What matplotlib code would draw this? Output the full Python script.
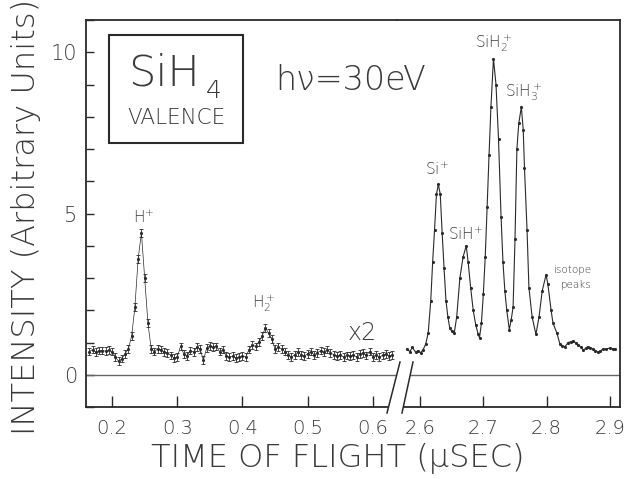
#- Time-of-flight spectrum of SiH4 (valence, hv = 30 eV) with a broken time axis.

import numpy as np
import matplotlib.pyplot as plt
from matplotlib.patches import Rectangle, Polygon
from matplotlib.lines import Line2D
from matplotlib.ticker import MultipleLocator

plt.rcParams['font.family'] = ['DejaVu Sans']
plt.rcParams['font.weight'] = 'light'
plt.rcParams['mathtext.fontset'] = 'custom'
plt.rcParams['mathtext.rm'] = 'DejaVu Sans:light'
plt.rcParams['mathtext.it'] = 'DejaVu Sans:light:italic'


#- Data:  left part (x2 scaled, with error bars), time bins every 0.005 usec.

t_left = np.round(np.arange(0.165, 0.6301, 0.005), 3)
i_left = [0.72, 0.78, 0.70, 0.75, 0.75, 0.73, 0.76, 0.72, 0.55, 0.42,
          0.50, 0.65, 0.80, 1.20, 2.10, 3.60, 4.40, 3.00, 1.60, 0.80,
          0.72, 0.80, 0.78, 0.70, 0.68, 0.60, 0.52, 0.55, 0.88, 0.65,
          0.58, 0.75, 0.70, 0.85, 0.80, 0.45, 0.82, 0.90, 0.85, 0.88,
          0.72, 0.78, 0.58, 0.55, 0.58, 0.52, 0.55, 0.58, 0.55, 0.78,
          0.92, 0.88, 1.02, 1.20, 1.45, 1.30, 1.10, 0.80, 0.85, 0.80,
          0.72, 0.62, 0.55, 0.62, 0.70, 0.62, 0.58, 0.65, 0.72, 0.62,
          0.68, 0.75, 0.70, 0.78, 0.68, 0.62, 0.58, 0.62, 0.55, 0.60,
          0.58, 0.62, 0.55, 0.65, 0.68, 0.60, 0.72, 0.55, 0.62, 0.55,
          0.60, 0.65, 0.58, 0.62]
err_left = 0.12

#- Data:  right part (Si-containing ions).

t_right = [2.579, 2.584, 2.588, 2.593, 2.597, 2.601, 2.605, 2.609, 2.613, 2.617,
           2.620, 2.623, 2.626, 2.629, 2.632, 2.635, 2.638, 2.641, 2.644, 2.647,
           2.650, 2.654, 2.658, 2.663, 2.668, 2.673, 2.676, 2.680, 2.684, 2.688,
           2.692, 2.694, 2.697, 2.700, 2.703, 2.706, 2.709, 2.712, 2.716, 2.720,
           2.724, 2.728, 2.731, 2.734, 2.737, 2.741, 2.744, 2.747, 2.750, 2.753,
           2.756, 2.760, 2.763, 2.765, 2.769, 2.772, 2.777, 2.783, 2.788, 2.793,
           2.799, 2.802, 2.807, 2.810, 2.816, 2.821, 2.825, 2.829, 2.834, 2.838,
           2.842, 2.846, 2.850, 2.854, 2.858, 2.862, 2.865, 2.869, 2.873, 2.877,
           2.881, 2.885, 2.889, 2.894, 2.900, 2.904, 2.908]
i_right = [0.80, 0.72, 0.85, 0.70, 0.75, 0.68, 0.78, 0.95, 1.30, 2.30,
           3.50, 4.50, 5.60, 5.90, 5.60, 4.40, 3.30, 2.30, 1.80, 1.45,
           1.35, 1.28, 1.80, 3.00, 3.65, 4.00, 3.50, 2.70, 2.00, 1.55,
           1.25, 1.15, 1.60, 2.50, 3.65, 5.20, 6.80, 8.30, 9.80, 9.00,
           7.30, 4.90, 3.50, 2.60, 2.00, 1.40, 1.70, 2.10, 4.20, 7.00,
           7.80, 8.30, 7.60, 6.40, 4.50, 2.70, 1.80, 1.25, 1.80, 2.60,
           3.10, 2.80, 2.00, 1.60, 1.30, 0.95, 0.90, 0.87, 1.00, 1.02,
           1.05, 0.98, 0.93, 0.85, 0.77, 0.82, 0.87, 0.84, 0.80, 0.75,
           0.70, 0.74, 0.80, 0.80, 0.83, 0.81, 0.80]

left_ticks = [0.2, 0.3, 0.4, 0.5, 0.6]
right_ticks = [2.6, 2.7, 2.8, 2.9]


#- Figure layout in pixels:

W, H = 629, 479
ink = '#2a2a2a'
txt = '#3a3a3a'

def fx(px):
    return px / W

def fy(py):
    return 1 - py / H

fig = plt.figure(figsize=(W / 100, H / 100), dpi=100)
ax1 = fig.add_axes([fx(86), fy(407), fx(397) - fx(86), fy(20) - fy(407)])
ax2 = fig.add_axes([fx(397), fy(407), fx(620) - fx(397), fy(20) - fy(407)],
                   sharey=ax1)

ax1.errorbar(t_left, i_left, yerr=err_left, fmt='-', color=ink, lw=0.5,
             marker='.', ms=2.5, elinewidth=0.6, capsize=1.5, capthick=0.6)
ax2.plot(t_right, i_right, '-', color=ink, lw=0.8, marker='.', ms=2.5)

for ax in (ax1, ax2):
    ax.axhline(0, color='#666666', lw=1.0)
    for s in ax.spines.values():
        s.set_color(ink)
        s.set_linewidth(1.3)
    ax.tick_params(axis='x', direction='in', length=8, width=1.0,
                   colors=ink, labelcolor=txt, labelsize=14, pad=9)

ax1.spines['right'].set_visible(False)
ax2.spines['left'].set_visible(False)

ax1.set_xlim(0.16, 0.637)
ax2.set_xlim(2.5637, 2.9158)
ax1.set_ylim(-1, 11)
ax1.set_xticks(left_ticks)
ax1.set_xticklabels(['0.2', '0.3', '0.4', '0.5', '0.6'])
ax2.set_xticks(right_ticks)
ax2.set_xticklabels(['2.6', '2.7', '2.8', '2.9'])

ax1.yaxis.set_major_locator(MultipleLocator(5))
ax1.yaxis.set_minor_locator(MultipleLocator(1))
ax1.tick_params(axis='y', which='both', direction='in', length=6, width=1.0,
                colors=ink, labelcolor=txt, labelsize=15, pad=6)
ax2.tick_params(axis='y', which='both', left=False, labelleft=False)


#- Axis break:

gap = Polygon([(fx(400), fy(362)), (fx(413), fy(362)),
               (fx(402), fy(413)), (fx(387), fy(413))],
              closed=True, transform=fig.transFigure, facecolor='white',
              edgecolor='none', zorder=5)
fig.add_artist(gap)
for (x0, x1) in ((400, 387), (413, 402)):
    fig.add_artist(Line2D([fx(x0), fx(x1)], [fy(362), fy(413)],
                          transform=fig.transFigure, color=ink, lw=1.1,
                          zorder=6))


#- Axis titles:

fig.text(fx(338), fy(458), 'TIME OF FLIGHT (μSEC)', ha='center',
         va='center', fontsize=23, color=txt)
fig.text(fx(26), fy(217), 'INTENSITY (Arbitrary Units)', ha='center',
         va='center', rotation=90, fontsize=23, color=txt)


#- Annotation box and labels:

fig.add_artist(Rectangle((fx(109), fy(143)), fx(243) - fx(109),
                         fy(35) - fy(143), transform=fig.transFigure,
                         fill=False, edgecolor=ink, lw=1.5))
fig.text(fx(128), fy(85), 'SiH', ha='left', va='baseline', fontsize=31,
         color=txt)
fig.text(fx(206), fy(98), '4', ha='left', va='baseline', fontsize=18,
         color=txt)
fig.text(fx(176), fy(124), 'VALENCE', ha='center', va='baseline',
         fontsize=15.5, color=txt)
fig.text(fx(275), fy(90), 'hν=30eV', ha='left', va='baseline',
         fontsize=24, color=txt)

fig.text(fx(362), fy(333), 'x2', ha='center', va='center', fontsize=17,
         color=txt)

peak_labels = [
    (133, 223, r'$\mathregular{H^{\!+}}$'),
    (252, 308, r'$\mathregular{H_2^+}$'),
    (425, 175, r'$\mathregular{Si^{\!+}}$'),
    (448, 240, r'$\mathregular{SiH^{\!+}}$'),
    (475, 48, r'$\mathregular{SiH_2^+}$'),
    (505, 97, r'$\mathregular{SiH_3^+}$'),
]
for px, py, s in peak_labels:
    fig.text(fx(px), fy(py), s, ha='left', va='baseline', fontsize=11,
             color=txt)

fig.text(fx(592), fy(288), 'isotope\npeaks', ha='right', va='baseline',
         multialignment='right', fontsize=7.5, color=txt, linespacing=1.6)

fig.savefig('out.png', dpi=100)
